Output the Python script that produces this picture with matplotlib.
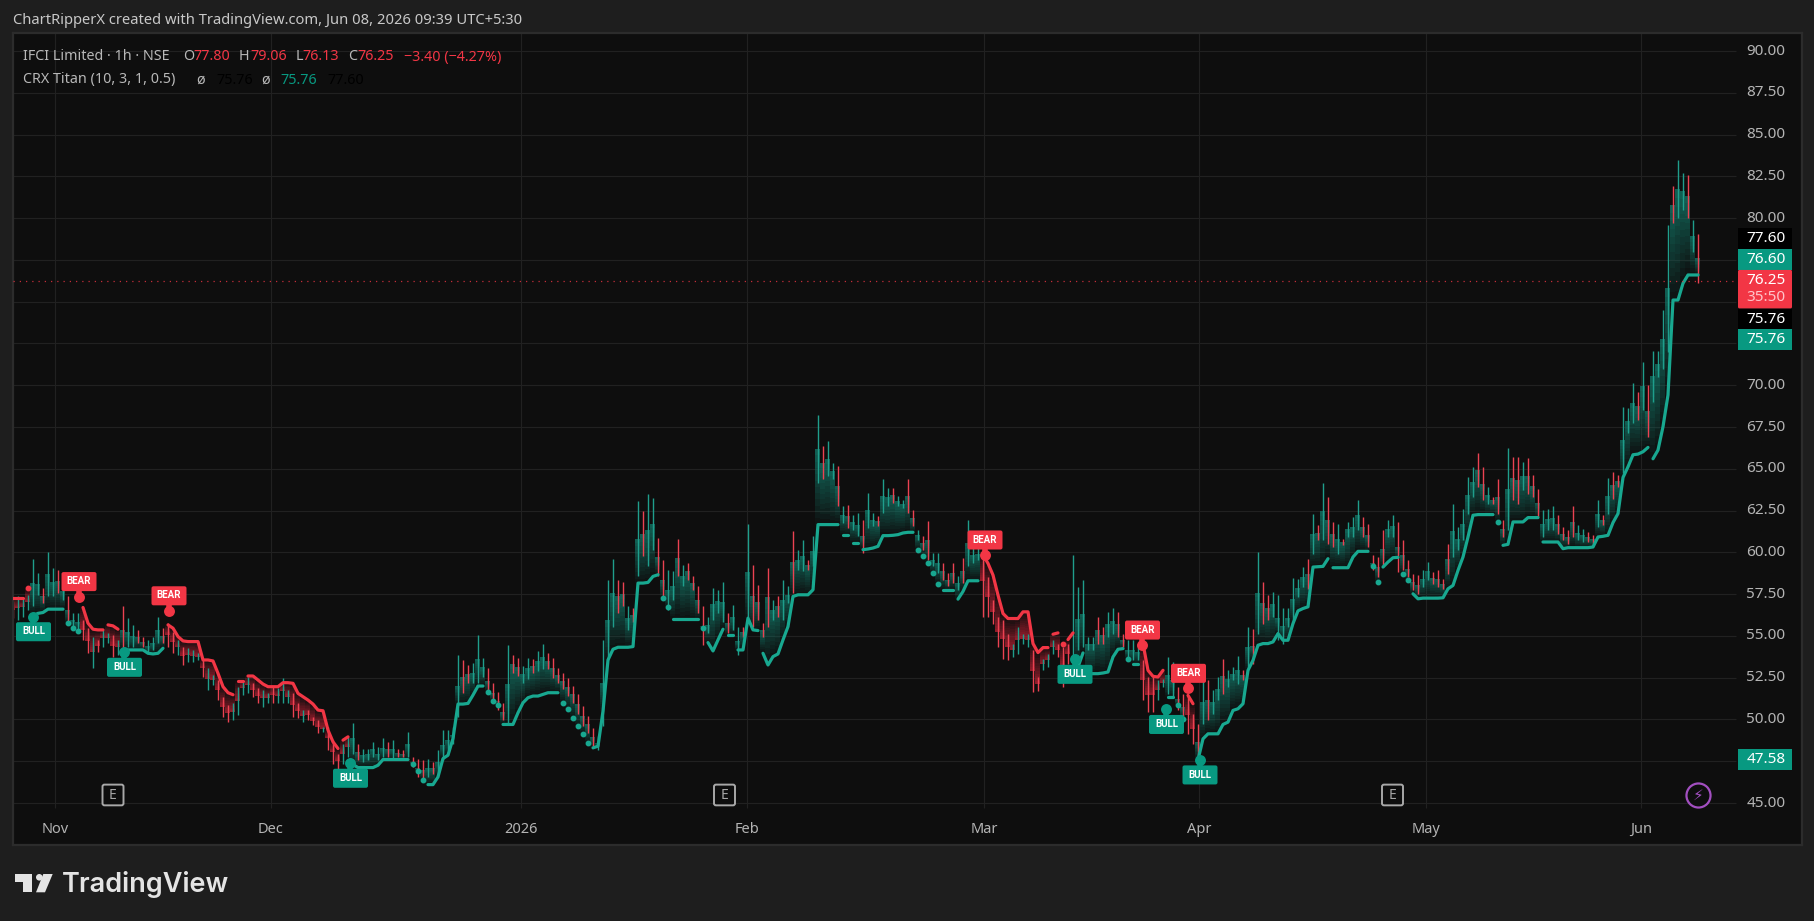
import numpy as np
import matplotlib
matplotlib.use('Agg')
import matplotlib.pyplot as plt
from matplotlib.collections import PolyCollection
from matplotlib.patches import FancyBboxPatch, Polygon, Circle, Rectangle
from matplotlib.transforms import Affine2D

W, H = 1815, 921
BG = '#1e1e1e'
PANEL = '#0e0e0e'
GRID = '#212121'
GREEN = '#089981'
RED = '#f23645'
LINE_GREEN = '#18a890'
BAR_GREEN = '#1f9e8c'
BAR_RED = '#ec4252'
AXIS_TEXT = '#b4b4b4'

# hourly bars, read in steps of one column per row of ten
highs = [
    57.06, 57.36, 57.26, 57.46, 59.6, 58.76, 57.86, 60.0, 59.06, 58.96,
    58.16, 57.36, 56.36, 56.36, 55.96, 55.46, 54.96, 54.76, 55.36, 55.16,
    55.06, 54.76, 56.76, 56.1, 55.66, 55.36, 54.96, 54.76, 54.96, 56.16,
    55.46, 55.76, 55.26, 54.76, 54.36, 54.26, 54.16, 53.96, 53.56, 53.06,
    52.66, 52.36, 51.36, 50.86, 50.96, 51.96, 52.26, 52.56, 52.16, 51.86,
    51.76, 51.56, 51.96, 51.86, 52.46, 51.76, 51.56, 50.96, 50.56, 50.56,
    50.16, 49.96, 49.56, 49.56, 48.76, 47.96, 48.56, 48.96, 49.76, 48.56,
    48.26, 48.26, 48.66, 48.36, 48.86, 48.66, 48.76, 48.26, 48.16, 49.26,
    47.76, 47.66, 47.56, 47.66, 47.46, 48.16, 49.36, 49.36, 49.56, 53.86,
    53.56, 53.26, 53.36, 55.06, 53.66, 53.06, 52.16, 51.66, 50.96, 54.46,
    53.86, 53.7, 53.2, 53.7, 53.6, 54.1, 54.5, 54.0, 53.7, 53.1,
    52.8, 52.5, 52.0, 51.5, 50.8, 50.2, 49.5, 49.0, 54.76, 58.36,
    59.6, 58.36, 58.2, 56.76, 56.66, 63.06, 62.46, 63.5, 63.26, 60.86,
    59.56, 58.96, 58.86, 60.8, 59.26, 59.36, 58.56, 57.96, 56.76, 56.16,
    57.86, 57.76, 58.2, 56.36, 56.86, 55.56, 55.56, 61.72, 59.26, 58.06,
    55.76, 59.06, 57.16, 57.36, 58.36, 57.96, 61.26, 60.16, 60.76, 59.56,
    60.96, 68.2, 66.36, 66.66, 65.36, 65.16, 62.76, 62.86, 62.26, 62.36,
    61.96, 63.56, 62.36, 62.16, 64.4, 63.86, 63.86, 63.36, 63.16, 64.36,
    62.56, 61.36, 60.96, 61.86, 59.96, 59.96, 59.36, 58.76, 59.36, 58.56,
    59.66, 61.96, 60.36, 60.26, 60.36, 58.5, 57.14, 56.14, 55.94, 55.14,
    54.54, 55.54, 55.14, 55.14, 54.14, 52.54, 53.64, 53.94, 54.74, 54.54,
    54.34, 54.54, 59.84, 57.94, 58.34, 54.94, 54.94, 56.14, 55.54, 56.44,
    56.64, 56.44, 55.14, 54.74, 54.74, 54.54, 53.54, 52.54, 52.54, 52.34,
    52.44, 53.74, 53.44, 51.94, 51.54, 51.34, 50.34, 49.74, 52.34, 52.34,
    51.74, 52.54, 53.64, 52.94, 53.14, 53.8, 52.94, 55.54, 55.44, 60.04,
    58.24, 57.44, 57.64, 57.44, 56.64, 56.64, 58.44, 58.42, 59.12, 59.62,
    62.32, 61.62, 64.18, 63.32, 61.82, 61.72, 60.82, 61.82, 62.12, 63.12,
    62.12, 61.72, 59.82, 59.72, 61.32, 61.92, 62.22, 61.82, 60.72, 59.52,
    58.72, 58.62, 58.92, 59.42, 58.82, 58.92, 58.42, 60.52, 62.88, 61.52,
    62.62, 64.52, 65.12, 65.96, 65.12, 63.92, 63.32, 64.36, 61.92, 66.22,
    65.72, 65.72, 65.42, 65.62, 64.62, 63.82, 62.52, 62.62, 62.76, 62.22,
    61.52, 61.32, 62.76, 61.62, 61.42, 61.22, 61.02, 63.12, 62.22, 64.42,
    64.82, 64.62, 68.72, 68.62, 70.12, 69.62, 71.42, 70.02, 72.06, 72.02,
    74.5, 79.6, 81.9, 83.5, 82.7, 82.6, 79.9, 79.06,
]
lows = [
    56.06, 55.96, 56.16, 56.56, 56.76, 57.46, 56.96, 57.36, 57.36, 57.56,
    57.16, 55.76, 55.56, 55.26, 54.76, 53.96, 53.06, 54.06, 54.36, 54.56,
    53.76, 53.86, 53.96, 54.36, 54.36, 54.56, 54.36, 54.06, 54.16, 54.56,
    54.56, 54.36, 53.96, 53.86, 53.26, 53.46, 53.46, 53.56, 52.56, 51.76,
    52.06, 51.16, 50.16, 49.86, 49.96, 50.26, 51.46, 51.56, 51.36, 50.96,
    50.76, 50.96, 50.96, 50.96, 50.96, 50.96, 50.16, 50.06, 49.86, 49.96,
    49.66, 49.16, 49.26, 48.16, 47.36, 47.06, 47.36, 47.76, 47.96, 47.56,
    47.46, 47.56, 47.76, 47.56, 47.76, 47.76, 47.66, 47.76, 47.76, 47.76,
    47.16, 46.56, 46.36, 46.56, 46.76, 46.76, 47.56, 48.16, 48.56, 50.16,
    51.56, 52.16, 52.16, 52.16, 52.56, 51.56, 50.96, 50.56, 49.96, 49.76,
    52.76, 52.6, 52.2, 52.4, 52.8, 52.9, 53.0, 53.0, 52.5, 52.2,
    51.8, 51.4, 51.0, 50.3, 49.6, 49.2, 48.4, 48.2, 49.6, 53.56,
    55.56, 56.36, 56.76, 55.36, 55.86, 58.56, 59.76, 59.16, 60.16, 58.56,
    57.16, 56.56, 57.16, 58.56, 57.96, 58.36, 57.76, 56.36, 54.46, 55.16,
    55.96, 56.36, 55.86, 55.16, 55.36, 53.86, 54.96, 55.96, 55.56, 55.96,
    54.96, 55.56, 55.96, 56.16, 55.96, 56.96, 57.56, 58.96, 58.86, 58.96,
    59.16, 64.16, 64.36, 64.56, 64.36, 62.76, 61.76, 61.46, 61.36, 60.96,
    59.96, 61.46, 61.56, 61.56, 62.36, 62.76, 62.96, 62.76, 62.66, 62.36,
    61.56, 60.76, 60.16, 59.56, 59.16, 58.76, 58.36, 57.96, 58.16, 57.76,
    58.16, 59.16, 59.36, 59.56, 56.16, 56.14, 55.74, 54.34, 53.64, 53.54,
    53.74, 53.94, 54.54, 54.34, 51.64, 51.7, 52.94, 53.14, 53.94, 53.74,
    51.94, 53.34, 53.74, 54.14, 54.34, 54.14, 54.14, 54.54, 54.54, 54.94,
    55.14, 54.94, 54.34, 53.54, 53.54, 53.54, 51.14, 50.44, 50.44, 51.14,
    51.94, 51.54, 51.34, 50.54, 49.94, 49.14, 48.54, 47.58, 49.74, 49.94,
    50.34, 51.14, 51.54, 51.94, 52.34, 52.14, 52.34, 53.14, 53.34, 55.14,
    55.74, 55.94, 56.14, 54.74, 54.54, 55.54, 55.94, 57.32, 57.92, 57.82,
    59.92, 60.72, 60.72, 60.52, 60.32, 59.92, 60.42, 60.92, 60.92, 61.32,
    60.92, 60.32, 58.92, 58.52, 59.12, 60.92, 60.92, 58.82, 58.92, 58.52,
    57.72, 57.52, 57.92, 58.32, 58.12, 57.92, 57.82, 58.72, 59.72, 60.12,
    60.72, 62.32, 63.32, 63.92, 63.12, 62.92, 62.92, 62.32, 60.92, 61.32,
    63.12, 62.92, 63.72, 63.52, 63.32, 62.12, 60.92, 61.32, 61.32, 61.12,
    60.72, 60.52, 60.92, 60.72, 60.62, 60.62, 60.52, 61.52, 61.62, 62.32,
    63.22, 63.92, 64.72, 67.12, 67.72, 67.92, 68.52, 66.92, 69.02, 70.52,
    71.0, 72.0, 79.7, 80.0, 80.5, 80.0, 78.0, 76.13,
]
bar_sides = (
    'rgggggrggr' 'grggrrgrgg' 'rgrggrrggg' 'rrrgrgggrg' 'grrrggggrr'
    'ggrgggrrgr' 'rrgrrrgggr' 'gggggrgrrg' 'rrrgrggggg' 'rrgggrrrrg'
    'rrggrggrrr' 'rrrrrrrggg' 'grrgrgrggr' 'rggrgrrrrg' 'gggrggrgrr'
    'rrgrggrggr' 'ggrggrgrgg' 'rggrggrggr' 'rgrrggrrrg' 'rgggrrrrrr'
    'ggggrrgggr' 'rrgggggrrg' 'grrgggrrrg' 'gggrrrrrgr' 'ggrgggrgrg'
    'rrgggggggr' 'grgrrgrggg' 'rrrrrggrrr' 'rrggrrrrgg' 'gggrrgrrrg'
    'rrgrrrgggr' 'rrrggrrgrg' 'rrgggrgrgg' 'ggrggrgr'
)

# CRX Titan trailing line, one value per bar
titan = [
    57.26, 57.26, 57.26, 57.86, 56.2, 56.35, 56.4, 56.6, 56.6, 56.6,
    56.6, 55.76, 55.5, 55.3, 56.7, 55.76, 55.4, 55.36, 55.36, 55.66,
    55.6, 55.4, 54.16, 54.16, 54.16, 54.16, 54.16, 53.96, 53.92, 53.96,
    54.26, 55.66, 55.46, 54.96, 54.7, 54.66, 54.66, 54.66, 53.56, 53.56,
    53.5, 52.76, 51.96, 51.6, 51.48, 52.3, 52.3, 52.6, 52.6, 52.36,
    52.12, 51.96, 51.96, 51.96, 52.2, 52.2, 52.16, 51.56, 51.36, 51.16,
    50.92, 50.56, 50.52, 49.36, 48.66, 48.26, 48.76, 48.96, 47.3, 47.12,
    47.12, 47.12, 47.12, 47.26, 47.6, 47.6, 47.6, 47.6, 47.6, 47.6,
    47.32, 46.9, 46.4, 46.1, 46.1, 46.56, 47.66, 47.86, 48.86, 50.92,
    50.92, 50.96, 51.46, 52.0, 52.0, 51.66, 51.12, 50.86, 49.7, 49.7,
    49.7, 50.4, 51.0, 51.3, 51.4, 51.4, 51.5, 51.6, 51.6, 51.6,
    51.0, 50.6, 50.1, 49.6, 49.1, 48.6, 48.3, 48.4, 50.5, 53.56,
    54.2, 54.32, 54.32, 54.32, 54.36, 58.16, 58.16, 58.2, 58.56, 58.66,
    57.26, 56.7, 56.0, 56.0, 56.0, 56.0, 56.0, 56.0, 55.5, 54.6,
    54.1, 54.76, 55.4, 55.04, 55.04, 54.16, 54.16, 56.06, 55.36, 55.32,
    53.96, 53.26, 53.76, 53.92, 54.76, 55.56, 57.36, 57.46, 57.46, 57.46,
    57.76, 61.66, 61.66, 61.66, 61.66, 61.66, 61.06, 61.06, 60.56, 60.56,
    60.16, 60.2, 60.26, 60.36, 61.0, 61.0, 61.02, 61.06, 61.16, 61.2,
    61.2, 60.16, 59.8, 59.36, 58.76, 58.12, 57.76, 57.76, 57.76, 57.2,
    57.66, 58.3, 58.3, 58.3, 59.84, 59.34, 58.64, 57.44, 56.34, 56.04,
    56.04, 56.04, 56.44, 56.44, 54.54, 54.0, 54.3, 54.3, 55.1, 55.18,
    54.54, 54.78, 55.18, 53.14, 53.98, 52.74, 52.74, 52.74, 52.78, 52.84,
    53.74, 54.2, 54.24, 53.64, 53.34, 53.34, 54.54, 52.94, 52.58, 52.54,
    52.94, 51.34, 51.34, 50.84, 50.04, 51.44, 50.94, 47.58, 48.84, 49.14,
    49.14, 49.14, 49.7, 49.84, 50.54, 50.64, 50.94, 52.94, 53.54, 54.44,
    54.54, 54.54, 54.64, 55.14, 54.74, 54.74, 55.74, 56.5, 56.64, 56.74,
    59.12, 59.14, 59.16, 59.62, 59.08, 59.08, 59.08, 59.08, 59.72, 60.06,
    60.06, 60.06, 59.16, 58.22, 59.12, 59.42, 59.68, 59.7, 58.72, 58.32,
    57.52, 57.22, 57.26, 57.26, 57.26, 57.26, 57.28, 57.82, 58.02, 58.92,
    59.72, 60.92, 62.22, 62.26, 62.26, 62.26, 62.26, 61.82, 60.42, 60.48,
    61.82, 61.82, 61.82, 62.08, 62.08, 62.08, 60.62, 60.62, 60.62, 60.62,
    60.22, 60.28, 60.28, 60.28, 60.28, 60.28, 60.32, 60.92, 60.96, 61.02,
    61.78, 62.32, 64.48, 65.12, 65.84, 65.88, 66.02, 66.28, 65.6, 66.12,
    67.52, 69.42, 75.1, 75.1, 76.1, 76.6, 76.6, 76.6,
]
# stretches where the line is on the bearish side, bars inclusive
bear_runs = [(0, 3), (14, 21), (31, 67), (194, 212), (226, 230), (235, 236)]
# the line is not joined to the bar before these
line_breaks = [3, 11, 12, 13, 19, 45, 47, 66, 80, 81, 82, 83, 95, 96, 97, 98,
               110, 111, 112, 113, 114, 115, 116, 130, 131, 132, 138, 139,
               143, 145, 150, 166, 168, 170, 181, 182, 183, 184, 185, 186,
               189, 208, 210, 211, 215, 223, 224, 233, 234, 264, 272, 273,
               274, 278, 279, 280, 297, 298, 306, 328]

bear_signals = [(13.2, 57.35), (31.2, 56.5), (194.4, 59.84), (225.9, 54.45), (235.1, 51.86)]
bull_signals = [(4.1, 56.15), (22.3, 54.02), (67.5, 47.38), (212.4, 53.6), (230.7, 50.6), (237.4, 47.58)]
earnings_bars = [20, 142.3, 275.9]

price_ticks = [45, 50, 52.5, 55, 57.5, 60, 62.5, 65, 67.5, 70, 80, 82.5, 85, 87.5, 90]
grid_prices = [45, 47.5, 50, 52.5, 55, 57.5, 60, 62.5, 65, 67.5, 70, 72.5, 75, 77.5, 80, 82.5, 85, 87.5, 90]
month_labels = ['Nov', 'Dec', '2026', 'Feb', 'Mar', 'Apr', 'May', 'Jun']
month_bars = [8.5, 51.6, 101.6, 146.8, 194.2, 237.2, 282.6, 325.7]

last_price = 76.25

plt.rcParams['font.family'] = ['Noto Sans', 'DejaVu Sans']

fig = plt.figure(figsize=(W / 100, H / 100), dpi=100, facecolor=BG)
ax = fig.add_axes([13 / W, 1 - 845 / H, (1802 - 13) / W, (845 - 33) / H], facecolor=PANEL)
ax.set_xlim(0, (1802 - 13) / 5)
ax.set_ylim(45 - 42 / 16.71, 45 + 770 / 16.71)
ax.set_xticks([])
ax.set_yticks([])
for s in ax.spines.values():
    s.set_color('#2c2c2c')
    s.set_linewidth(1.6)

plot_right = 344.6
ax.hlines(grid_prices, 0, plot_right, color=GRID, lw=0.8, zorder=0)
ax.vlines(month_bars, 44.7, ax.get_ylim()[1], color=GRID, lw=0.8, zorder=0)

x = np.arange(len(highs))
highs = np.array(highs)
lows = np.array(lows)
titan = np.array(titan)
is_bear = np.zeros(len(x), dtype=bool)
for a, b in bear_runs:
    is_bear[a:b + 1] = True

# fade from the price towards the line, strongest next to the price
polys = []
face = []
steps = 12
for i in x:
    top = (highs[i] + lows[i]) / 2
    if is_bear[i] and top >= titan[i]:
        continue
    if not is_bear[i] and top <= titan[i]:
        continue
    levels = np.linspace(top, titan[i], steps + 1)
    rgb = (0.72, 0.13, 0.2) if is_bear[i] else (0.07, 0.46, 0.40)
    for k in range(steps):
        polys.append([(i - 0.5, levels[k]), (i + 0.5, levels[k]),
                      (i + 0.5, levels[k + 1]), (i - 0.5, levels[k + 1])])
        face.append(rgb + (0.78 - 0.72 * k / (steps - 1),))
ax.add_collection(PolyCollection(polys, facecolors=face, edgecolors='none',
                                 antialiaseds=False, zorder=1))

bar_colors = [BAR_GREEN if c == 'g' else BAR_RED for c in bar_sides]
ax.vlines(x, lows, highs, colors=bar_colors, lw=1.0, zorder=2)

# trailing line, split at side changes and at the breaks
start = 0
for i in range(1, len(x) + 1):
    if i == len(x) or i in line_breaks or is_bear[i] != is_bear[i - 1]:
        col = RED if is_bear[start] else LINE_GREEN
        if i - start == 1:
            ax.plot(x[start:i], titan[start:i], 'o', color=col, ms=3.2, zorder=3)
        else:
            ax.plot(x[start:i], titan[start:i], color=col, lw=2.3,
                    solid_capstyle='round', solid_joinstyle='round', zorder=3)
        start = i

ax.plot([0, plot_right], [last_price, last_price], color=RED, lw=0.9,
        ls=(0, (1, 4)), alpha=0.8, zorder=3)

# signal pins
for sigs, col, word, off in [(bear_signals, RED, 'BEAR', 0.9), (bull_signals, GREEN, 'BULL', -0.9)]:
    for sx, sy in sigs:
        ax.plot([sx, sx], [sy, sy + off * 0.6], color=col, lw=4, zorder=5)
        ax.scatter([sx], [sy], s=62, color=col, linewidths=0, zorder=5)
        cy = sy + off
        ax.add_patch(FancyBboxPatch((sx - 3.5, cy - 0.57), 7, 1.14,
                                    boxstyle='round,pad=0,rounding_size=0.4',
                                    mutation_aspect=0.3, fc=col, ec='none', zorder=5))
        ax.text(sx, cy + 0.02, word, color='white', fontsize=7, fontweight='bold',
                family='Roboto', ha='center', va='center', zorder=6)

# earnings flags
for ex in earnings_bars:
    ax.add_patch(FancyBboxPatch((ex - 2.1, 45.48 - 0.62), 4.2, 1.24,
                                boxstyle='round,pad=0,rounding_size=0.4',
                                mutation_aspect=0.3, fc=PANEL, ec='#a8a8a8', lw=1.4, zorder=4))
    ax.text(ex, 45.46, 'E', color='#a8a8a8', fontsize=10, ha='center', va='center', zorder=5)

# lightning badge near the last bar
ax.scatter([337], [45.48], s=300, facecolors=PANEL, edgecolors='#a24fc0', linewidths=1.6, zorder=4)
ax.text(337, 45.46, '\u26a1', color='#a24fc0', fontsize=11, family='DejaVu Sans',
        ha='center', va='center', zorder=5)

# time axis
for lab, mx in zip(month_labels, month_bars):
    ax.text(mx, 43.44, lab, color=AXIS_TEXT, fontsize=10.5, ha='center', va='center',
            fontweight='bold' if lab == '2026' else 'normal')

# price axis
label_x = 350.6
for p in price_ticks:
    ax.text(label_x, p, '%.2f' % p, color=AXIS_TEXT, fontsize=11, ha='center', va='center')

tags = [(78.78, '77.60', '#000000'), (77.52, '76.60', GREEN), (73.93, '75.76', '#000000'),
        (72.71, '75.76', GREEN), (47.58, '47.58', GREEN)]
for ty, txt, col in tags:
    ax.add_patch(Rectangle((345, ty - 0.63), 10.8, 1.26, fc=col, ec='none', zorder=4))
    ax.text(label_x, ty, txt, color='white', fontsize=11, ha='center', va='center', zorder=5)
ax.add_patch(FancyBboxPatch((345, 74.6), 10.8, 2.3, boxstyle='round,pad=0,rounding_size=0.3',
                            mutation_aspect=0.3, fc=RED, ec='none', zorder=4))
ax.text(label_x, last_price, '76.25', color='white', fontsize=11, ha='center', va='center', zorder=5)
ax.text(label_x, 75.26, '35:50', color='#ffc4ca', fontsize=11, ha='center', va='center', zorder=5)


def put(px, py, txt, color, size=10.3, **kw):
    fig.text(px / W, 1 - py / H, txt, color=color, fontsize=size, ha='left', va='center', **kw)


# header and legend rows
put(13, 21, 'ChartRipperX created with TradingView.com, Jun 08, 2026 09:39 UTC+5:30', '#c8c8c8', size=10.6)
LEG = '#b8b8b8'
LEG_RED = '#f23645'
for px, txt, col in [(23, 'IFCI Limited \u00b7 1h \u00b7 NSE', LEG), (183, 'O', LEG), (193, '77.80', LEG_RED),
                     (239, 'H', LEG), (250, '79.06', LEG_RED), (296, 'L', LEG), (302.5, '76.13', LEG_RED),
                     (348, 'C', LEG), (357, '76.25', LEG_RED), (403.6, '\u22123.40 (\u22124.27%)', LEG_RED)]:
    put(px, 57, txt, col)
for px, txt, col in [(23, 'CRX Titan (10, 3, 1, 0.5)', LEG), (196, '\u00f8', LEG), (216, '75.76', '#000000'),
                     (261, '\u00f8', LEG), (280, '75.76', GREEN), (327, '77.60', '#000000')]:
    put(px, 80, txt, col)

# footer logo
px = Affine2D().scale(1 / W, -1 / H).translate(0, 1) + fig.transFigure
logo = '#e4e4e4'
fig.add_artist(Polygon([(15, 874), (31.7, 874), (31.7, 892.3), (23.3, 892.3), (23.3, 881.7), (15, 881.7)],
                       closed=True, fc=logo, ec='none', transform=px))
fig.add_artist(Polygon([(43.3, 874), (52.7, 874), (45, 892.3), (36, 892.3)],
                       closed=True, fc=logo, ec='none', transform=px))
fig.add_artist(Circle((39.3, 877.3), 3.3, fc=logo, ec='none', transform=px))
fig.text(61.5 / W, 1 - 884 / H, 'TradingView', color=logo, fontsize=19.5, family='Inter',
         fontweight='semibold', ha='left', va='center')

fig.savefig('out.png', dpi=100, facecolor=BG)
